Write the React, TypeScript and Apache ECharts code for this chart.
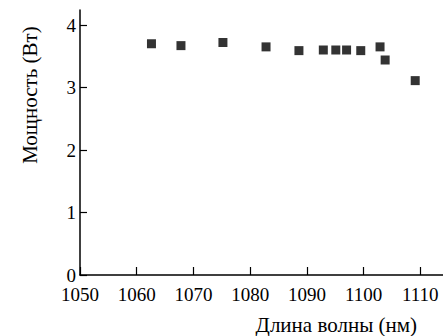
import React, { useEffect, useRef } from "react";
import * as echarts from "echarts";

const wavelengths = [1062.6, 1067.8, 1075.2, 1082.8, 1088.6, 1092.9, 1095.1, 1097.0, 1099.5, 1102.9, 1103.8, 1109.1];
const powers = [3.70, 3.67, 3.72, 3.65, 3.59, 3.60, 3.60, 3.60, 3.59, 3.65, 3.44, 3.11];
const xTicks = [1050, 1060, 1070, 1080, 1090, 1100, 1110];
const yTicks = [0, 1, 2, 3, 4];
const xTitle = "Длина волны (нм)";
const yTitle = "Мощность (Вт)";

const FONT = "Times New Roman";

export default function App() {
  const ref = useRef<HTMLDivElement>(null);
  useEffect(() => {
    if (!ref.current) return;
    const chart = echarts.init(ref.current, undefined, { renderer: "svg" });
    chart.setOption({
      animation: false,
      backgroundColor: "#ffffff",
      textStyle: { fontFamily: FONT },
      grid: { left: 80, right: 0, top: 10, bottom: 61, containLabel: false },
      xAxis: {
        type: "value",
        min: 1050,
        max: 1114,
        interval: 10,
        axisLine: { lineStyle: { color: "#000", width: 1.5 } },
        axisTick: { inside: true, length: 8, lineStyle: { color: "#000", width: 1.2 }, customValues: xTicks },
        axisLabel: {
          color: "#000",
          fontFamily: FONT,
          fontSize: 19,
          margin: 10,
          customValues: xTicks,
          formatter: (v: number) => String(v),
        },
        splitLine: { show: false },
      },
      yAxis: {
        type: "value",
        min: 0,
        max: 4.24,
        interval: 1,
        axisLine: { show: true, lineStyle: { color: "#000", width: 1.5 } },
        axisTick: { show: true, inside: true, length: 7, lineStyle: { color: "#000", width: 1.2 }, customValues: yTicks },
        axisLabel: {
          color: "#000",
          fontFamily: FONT,
          fontSize: 19,
          margin: 4,
          customValues: yTicks,
          formatter: (v: number) => String(v),
        },
        splitLine: { show: false },
      },
      graphic: [
        {
          type: "text",
          x: 417,
          y: 325,
          style: {
            text: xTitle,
            fill: "#000",
            fontFamily: FONT,
            fontSize: 21,
            align: "right",
            verticalAlign: "middle",
          },
        },
        {
          type: "text",
          x: 30,
          y: 95,
          rotation: Math.PI / 2,
          style: {
            text: yTitle,
            fill: "#000",
            fontFamily: FONT,
            fontSize: 21,
            align: "center",
            verticalAlign: "middle",
          },
        },
      ],
      series: [
        {
          type: "scatter",
          symbol: "rect",
          symbolSize: 9,
          itemStyle: { color: "#000" },
          data: wavelengths.map((w, i) => [w, powers[i]]),
        },
      ],
    });
    return () => chart.dispose();
  }, []);
  return <div ref={ref} style={{ position: "fixed", left: 0, top: 0, width: 443, height: 336 }} />;
}
